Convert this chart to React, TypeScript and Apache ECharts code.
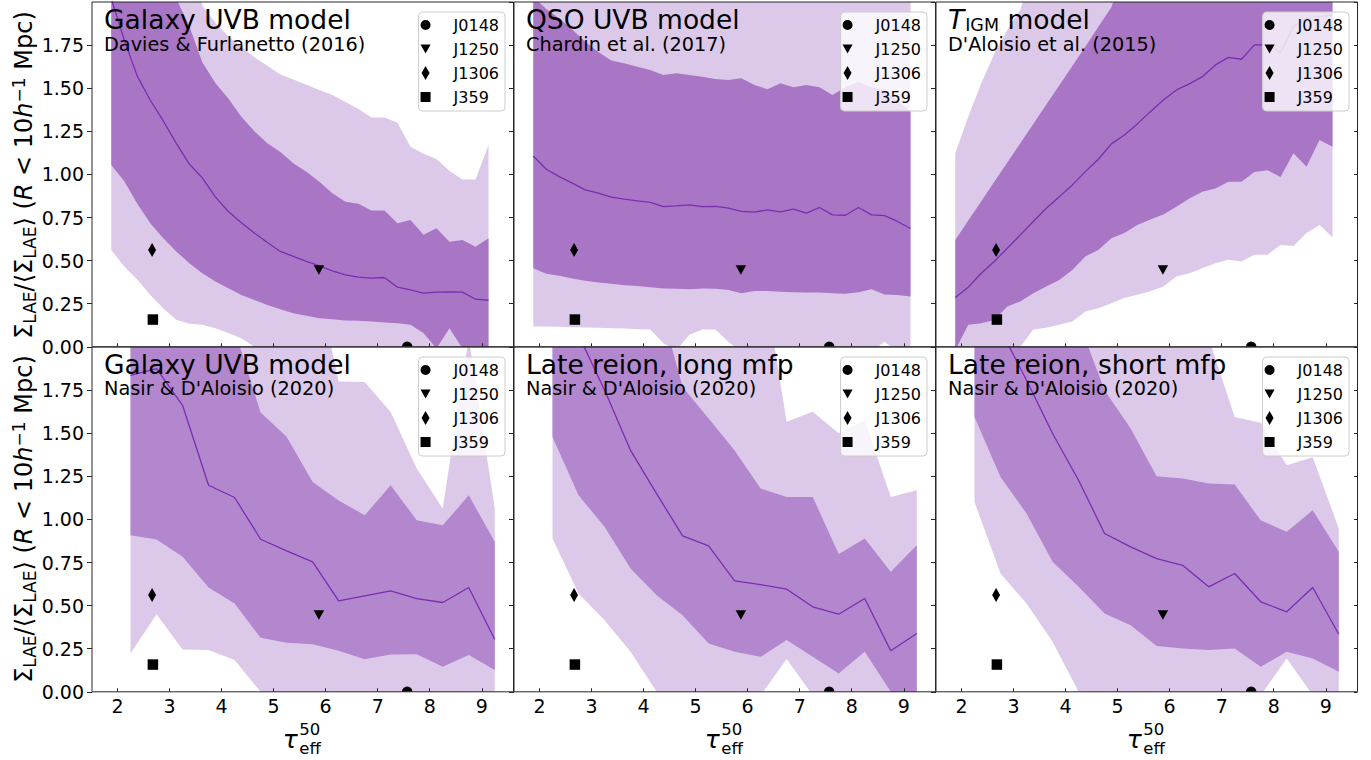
import React, { useEffect, useRef } from 'react';
import * as echarts from 'echarts';

// ---------- data ----------
const tauFine = [1.88, 2.13, 2.38, 2.63, 2.88, 3.13, 3.38, 3.63, 3.88, 4.13, 4.38, 4.63, 4.88, 5.13, 5.38, 5.63, 5.88, 6.13, 6.38, 6.63, 6.88, 7.13, 7.38, 7.63, 7.88, 8.13, 8.38, 8.63, 8.88, 9.13];
const tauCoarse = [2.25, 2.75, 3.25, 3.75, 4.25, 4.75, 5.25, 5.75, 6.25, 6.75, 7.25, 7.75, 8.25, 8.75, 9.25];

// Panel 1: Galaxy UVB model, Davies & Furlanetto (2016)
const p1Lo2 = [0.562, 0.466, 0.39, 0.30, 0.224, 0.157, 0.133, 0.128, 0.108, 0.08, 0.05, 0.0, -0.05, -0.05, -0.05, -0.05, -0.05, -0.05, -0.05, -0.05, -0.05, -0.05, -0.05, -0.05, -0.05, -0.05, -0.05, -0.05, -0.05, -0.05];
const p1Lo1 = [1.055, 0.96, 0.83, 0.717, 0.63, 0.553, 0.485, 0.427, 0.379, 0.34, 0.30, 0.272, 0.243, 0.218, 0.195, 0.18, 0.166, 0.16, 0.153, 0.151, 0.147, 0.141, 0.137, 0.128, 0.08, -0.01, 0.108, -0.01, -0.05, -0.05];
const p1Med = [2.02, 1.78, 1.57, 1.43, 1.31, 1.18, 1.06, 0.98, 0.87, 0.785, 0.72, 0.66, 0.605, 0.553, 0.524, 0.495, 0.47, 0.44, 0.417, 0.404, 0.398, 0.402, 0.346, 0.33, 0.311, 0.317, 0.319, 0.317, 0.276, 0.27];
const p1Hi1 = [2.5, 2.5, 2.5, 2.5, 2.3, 2.02, 1.86, 1.65, 1.53, 1.44, 1.335, 1.25, 1.18, 1.13, 1.065, 1.015, 0.958, 0.89, 0.842, 0.83, 0.79, 0.79, 0.717, 0.736, 0.65, 0.688, 0.61, 0.62, 0.58, 0.63];
const p1Hi2 = [2.5, 2.5, 2.5, 2.5, 2.5, 2.5, 2.5, 1.98, 1.88, 1.8, 1.74, 1.68, 1.63, 1.58, 1.55, 1.52, 1.49, 1.46, 1.42, 1.38, 1.33, 1.33, 1.3, 1.16, 1.12, 1.09, 1.02, 0.97, 0.97, 1.17];

// Panel 2: QSO UVB model, Chardin et al. (2017)
const p2Lo2 = [0.118, 0.118, 0.116, 0.114, 0.112, 0.11, 0.108, 0.106, 0.102, 0.1, 0.02, -0.02, 0.07, 0.1, 0.1, 0.03, -0.03, -0.03, -0.03, -0.03, -0.03, -0.03, -0.03, -0.03, -0.03, -0.03, -0.03, 0.03, -0.03, -0.03];
const p2Lo1 = [0.456, 0.423, 0.412, 0.396, 0.383, 0.373, 0.365, 0.357, 0.352, 0.346, 0.338, 0.336, 0.334, 0.338, 0.336, 0.33, 0.311, 0.323, 0.323, 0.319, 0.317, 0.315, 0.315, 0.311, 0.307, 0.317, 0.334, 0.303, 0.3, 0.292];
const p2Med = [1.107, 1.03, 0.987, 0.949, 0.91, 0.891, 0.868, 0.856, 0.846, 0.838, 0.813, 0.817, 0.823, 0.813, 0.815, 0.804, 0.785, 0.781, 0.794, 0.783, 0.798, 0.775, 0.808, 0.765, 0.763, 0.808, 0.765, 0.761, 0.727, 0.686];
const p2Hi1 = [2.03, 1.96, 1.905, 1.84, 1.77, 1.71, 1.66, 1.645, 1.625, 1.606, 1.577, 1.586, 1.577, 1.567, 1.554, 1.548, 1.557, 1.519, 1.494, 1.528, 1.505, 1.519, 1.505, 1.461, 1.505, 1.538, 1.505, 1.49, 1.43, 1.364];
const p2Hi2 = [2.5, 2.5, 2.5, 2.5, 2.5, 2.5, 2.5, 2.5, 2.5, 2.5, 2.5, 2.5, 2.5, 2.5, 2.5, 2.5, 2.5, 2.5, 2.5, 2.5, 2.5, 2.5, 2.5, 2.5, 2.5, 2.5, 2.5, 2.5, 2.5, 2.5];

// Panel 3: T_IGM model, D'Aloisio et al. (2015)
const p3Lo2 = [-0.05, -0.05, -0.05, -0.05, -0.03, 0.0, 0.1, 0.11, 0.128, 0.147, 0.205, 0.224, 0.253, 0.283, 0.302, 0.322, 0.35, 0.408, 0.427, 0.456, 0.485, 0.505, 0.495, 0.534, 0.534, 0.59, 0.585, 0.66, 0.707, 0.635];
const p3Lo1 = [-0.02, 0.128, 0.137, 0.156, 0.234, 0.263, 0.311, 0.35, 0.388, 0.446, 0.524, 0.562, 0.63, 0.66, 0.707, 0.739, 0.768, 0.812, 0.86, 0.899, 0.918, 0.957, 0.957, 1.014, 1.024, 0.985, 1.123, 1.045, 1.2, 1.16];
const p3Med = [0.286, 0.346, 0.427, 0.495, 0.572, 0.649, 0.727, 0.804, 0.871, 0.939, 1.016, 1.088, 1.177, 1.229, 1.293, 1.364, 1.432, 1.49, 1.525, 1.567, 1.635, 1.679, 1.668, 1.751, 1.751, 1.706, 1.857, 1.905, 1.915, 1.925];
const p3Hi1 = [0.62, 0.732, 0.844, 0.957, 1.069, 1.18, 1.293, 1.405, 1.517, 1.629, 1.741, 1.857, 1.97, 2.2, 2.5, 2.5, 2.5, 2.5, 2.5, 2.5, 2.5, 2.5, 2.5, 2.5, 2.5, 2.5, 2.5, 2.5, 2.5, 2.5];
const p3Hi2 = [1.123, 1.335, 1.528, 1.7, 1.838, 1.954, 2.2, 2.5, 2.5, 2.5, 2.5, 2.5, 2.5, 2.5, 2.5, 2.5, 2.5, 2.5, 2.5, 2.5, 2.5, 2.5, 2.5, 2.5, 2.5, 2.5, 2.5, 2.5, 2.5, 2.5];

// Panel 4: Galaxy UVB model, Nasir & D'Aloisio (2020)
const p4Lo2 = [0.222, 0.45, 0.245, 0.242, 0.184, 0.0, -0.05, -0.05, -0.05, -0.05, -0.05, -0.05, -0.05, -0.05, -0.05];
const p4Lo1 = [0.908, 0.883, 0.783, 0.605, 0.512, 0.313, 0.284, 0.276, 0.238, 0.189, 0.216, 0.218, 0.145, 0.213, 0.126];
const p4Med = [1.836, 1.874, 1.662, 1.198, 1.127, 0.885, 0.817, 0.754, 0.528, 0.556, 0.585, 0.541, 0.518, 0.605, 0.303];
const p4Hi1 = [2.5, 2.5, 2.5, 2.5, 2.1, 1.62, 1.48, 1.217, 1.11, 1.024, 1.198, 0.995, 0.966, 1.14, 0.87];
const p4Hi2 = [2.5, 2.5, 2.5, 2.5, 2.5, 2.5, 2.5, 2.5, 1.8, 1.797, 1.623, 1.295, 1.063, 2.05, 1.063];

// Panel 5: Late reion, long mfp
const p5Lo2 = [0.889, 0.57, 0.415, 0.232, 0.0, -0.05, -0.05, -0.05, -0.02, 0.19, -0.02, -0.05, -0.05, -0.05, -0.05];
const p5Lo1 = [1.478, 1.14, 0.957, 0.715, 0.56, 0.444, 0.28, 0.232, 0.203, 0.3, 0.203, 0.106, 0.232, 0.0, -0.05];
const p5Med = [2.3, 2.07, 1.75, 1.4, 1.15, 0.904, 0.846, 0.643, 0.622, 0.595, 0.493, 0.45, 0.541, 0.238, 0.338];
const p5Hi1 = [2.5, 2.5, 2.5, 2.5, 2.32, 1.768, 1.585, 1.4, 1.179, 1.13, 1.13, 0.8, 0.889, 0.696, 0.85];
const p5Hi2 = [2.5, 2.5, 2.5, 2.5, 2.5, 2.5, 2.5, 2.5, 2.5, 1.566, 1.624, 1.5, 1.575, 1.13, 1.169];

// Panel 6: Late reion, short mfp
const p6Lo2 = [1.101, 0.686, 0.512, 0.29, 0.0, -0.05, -0.05, -0.05, -0.05, -0.05, -0.05, -0.02, 0.193, -0.02, -0.05];
const p6Lo1 = [1.594, 1.246, 1.034, 0.754, 0.609, 0.454, 0.386, 0.265, 0.251, 0.242, 0.251, 0.145, 0.232, 0.193, 0.116];
const p6Med = [2.4, 2.1, 1.807, 1.498, 1.227, 0.918, 0.841, 0.773, 0.734, 0.609, 0.686, 0.522, 0.464, 0.605, 0.334];
const p6Hi1 = [2.5, 2.5, 2.5, 2.5, 2.15, 1.749, 1.527, 1.25, 1.237, 1.208, 1.202, 0.995, 0.928, 1.053, 0.812];
const p6Hi2 = [2.5, 2.5, 2.5, 2.5, 2.5, 2.5, 2.5, 2.5, 2.5, 2.05, 1.594, 1.56, 1.314, 1.36, 0.947];

// Observed quasar fields [tau_eff^50, Sigma ratio]
const obsJ0148 = [[7.567, 0.0]];
const obsJ1250 = [[5.87, 0.445]];
const obsJ1306 = [[2.665, 0.562]];
const obsJ359 = [[2.68, 0.158]];

const panelTitles = ['Galaxy UVB model', 'QSO UVB model', '{it|T}{sub|IGM}{n| model}', 'Galaxy UVB model', 'Late reion, long mfp', 'Late reion, short mfp'];
const panelRefs = ['Davies & Furlanetto (2016)', 'Chardin et al. (2017)', "D'Aloisio et al. (2015)", "Nasir & D'Aloisio (2020)", "Nasir & D'Aloisio (2020)", "Nasir & D'Aloisio (2020)"];
const xTickValues = [2, 3, 4, 5, 6, 7, 8, 9];
const legendNames = ['J0148', 'J1250', 'J1306', 'J359'];

// ---------- styles ----------
const LIGHT = '#dcc9ea';
const DARK_TOP = '#a976c6';
const DARK_BOT = '#b387cd';
const LINE = '#7a2db3';
const INK = '#000000';
const SPINE = '#262626';
const FONT = "'DejaVu Sans', 'Liberation Sans', sans-serif";

const COL_LEFT = [92, 514, 936];
const ROW_TOP = [2, 347];
const PANEL_W = 421.5;
const PANEL_H = 344.8;
const CHART_W = 1371;

const SYM_HALF_DISC = 'path://M0 5A5 5 0 0 1 10 5Z';
const SYM_TRI_DOWN = 'path://M0 0L10 0L5 9Z';
const SYM_DIAMOND = 'path://M4 0L8 7L4 14L0 7Z';

const LEG_CIRCLE = 'path://M0 0M14 14M2 7A5 5 0 1 1 12 7A5 5 0 1 1 2 7Z';
const LEG_TRI = 'path://M0 0M14 14M2 2.5L12 2.5L7 11.5Z';
const LEG_DIAMOND = 'path://M0 0M14 14M7 0L11 7L7 14L3 7Z';
const LEG_SQUARE = 'path://M0 0M14 14M2 2L12 2L12 12L2 12Z';

const panels = [
  { x: tauFine, lo2: p1Lo2, lo1: p1Lo1, med: p1Med, hi1: p1Hi1, hi2: p1Hi2 },
  { x: tauFine, lo2: p2Lo2, lo1: p2Lo1, med: p2Med, hi1: p2Hi1, hi2: p2Hi2 },
  { x: tauFine, lo2: p3Lo2, lo1: p3Lo1, med: p3Med, hi1: p3Hi1, hi2: p3Hi2 },
  { x: tauCoarse, lo2: p4Lo2, lo1: p4Lo1, med: p4Med, hi1: p4Hi1, hi2: p4Hi2 },
  { x: tauCoarse, lo2: p5Lo2, lo1: p5Lo1, med: p5Med, hi1: p5Hi1, hi2: p5Hi2 },
  { x: tauCoarse, lo2: p6Lo2, lo1: p6Lo1, med: p6Med, hi1: p6Hi1, hi2: p6Hi2 },
];

// one filled polygon between lo and hi, projected through the grid's axes
function bandSeries(k: number, x: number[], lo: number[], hi: number[], color: string) {
  return {
    type: 'custom', xAxisIndex: k, yAxisIndex: k, clip: true, silent: true, z: 1,
    data: x.map((v, i) => [v, lo[i], hi[i]]),
    encode: { x: 0, y: [1, 2] },
    renderItem: (params: any, api: any) => {
      if (params.dataIndex !== 0) return { type: 'group', children: [] };
      const upper = x.map((v, i) => api.coord([v, hi[i]]));
      const lower = x.map((v, i) => api.coord([v, lo[i]])).reverse();
      return { type: 'polygon', silent: true, shape: { points: upper.concat(lower) }, style: { fill: color, stroke: null } };
    },
  };
}

function buildOption() {
  const grid: any[] = [];
  const xAxis: any[] = [];
  const yAxisL: any[] = [];
  const yAxisR: any[] = [];
  const series: any[] = [];
  const legend: any[] = [];
  const elements: any[] = [];

  panels.forEach((p, k) => {
    const row = Math.floor(k / 3);
    const col = k % 3;
    const left = COL_LEFT[col];
    const top = ROW_TOP[row];
    grid.push({ left, top, width: PANEL_W, height: PANEL_H, show: true, borderColor: SPINE, borderWidth: 1, backgroundColor: 'transparent', z: 4 });
    xAxis.push({
      type: 'value', gridIndex: k, min: 1.51, max: 9.61, z: 4,
      axisLine: { show: false }, splitLine: { show: false },
      axisTick: { show: true, inside: true, length: 3.5, customValues: xTickValues, lineStyle: { color: SPINE, width: 1 } },
      axisLabel: { show: row === 1, customValues: xTickValues, fontSize: 19, fontFamily: FONT, color: INK, margin: 5 },
    });
    yAxisL.push({
      type: 'value', gridIndex: k, min: 0, max: 2, interval: 0.25, position: 'left', z: 4,
      axisLine: { show: false }, splitLine: { show: false },
      axisTick: { show: true, inside: false, length: 5, lineStyle: { color: SPINE, width: 1 } },
      axisLabel: { show: col === 0, showMaxLabel: false, formatter: (v: number) => v.toFixed(2), fontSize: 19, fontFamily: FONT, color: INK, margin: 8 },
    });
    yAxisR.push({
      type: 'value', gridIndex: k, min: 0, max: 2, interval: 0.25, position: 'right', z: 4,
      axisLine: { show: false }, splitLine: { show: false },
      axisTick: { show: true, inside: true, length: 3.5, lineStyle: { color: SPINE, width: 1 } },
      axisLabel: { show: false },
    });

    const dark = row === 0 ? DARK_TOP : DARK_BOT;
    series.push(bandSeries(k, p.x, p.lo2, p.hi2, LIGHT));
    series.push(bandSeries(k, p.x, p.lo1, p.hi1, dark));
    series.push({
      type: 'line', xAxisIndex: k, yAxisIndex: k, data: p.x.map((v, i) => [v, p.med[i]]),
      symbol: 'none', showSymbol: false, silent: true, clip: true, z: 2,
      lineStyle: { color: LINE, width: 1.3 },
    });
    const sc = { type: 'scatter', xAxisIndex: k, yAxisIndex: k, silent: true, clip: false, z: 3, itemStyle: { color: INK, opacity: 1 } };
    series.push({ ...sc, name: 'J0148', data: obsJ0148, symbol: SYM_HALF_DISC, symbolSize: [10.5, 5.25], symbolOffset: [0, -2.6] });
    series.push({ ...sc, name: 'J1250', data: obsJ1250, symbol: SYM_TRI_DOWN, symbolSize: [10.5, 9.5] });
    series.push({ ...sc, name: 'J1306', data: obsJ1306, symbol: SYM_DIAMOND, symbolSize: [8, 14] });
    series.push({ ...sc, name: 'J359', data: obsJ359, symbol: 'rect', symbolSize: 10.5 });

    legend.push({
      orient: 'vertical', right: CHART_W - (left + PANEL_W - 8.5), top: top + 10,
      itemWidth: 46, itemHeight: 14, itemGap: 8,
      padding: [5, 6, 6, 0],
      backgroundColor: 'rgba(255,255,255,0.8)', borderColor: '#cccccc', borderWidth: 1, borderRadius: 4,
      textStyle: { fontSize: 16, fontFamily: FONT, color: INK },
      itemStyle: { opacity: 1 },
      selectedMode: false, z: 6,
      data: [
        { name: legendNames[0], icon: LEG_CIRCLE },
        { name: legendNames[1], icon: LEG_TRI },
        { name: legendNames[2], icon: LEG_DIAMOND },
        { name: legendNames[3], icon: LEG_SQUARE },
      ],
    });

    // panel titles
    const titleCentral = top + (row === 0 ? 17.9 : 17.3);
    const refCentral = top + (row === 0 ? 42.7 : 41.6);
    elements.push({
      type: 'text', x: left + 12, y: titleCentral, z: 10, silent: true,
      style: {
        text: panelTitles[k], fill: INK, fontSize: 26.5, fontFamily: FONT, align: 'left', verticalAlign: 'middle',
        rich: {
          it: { fontSize: 26.5, fontFamily: FONT, fontStyle: 'italic', lineHeight: 28 },
          sub: { fontSize: 17.5, fontFamily: FONT, lineHeight: 28, padding: [11, 0, 0, 1] },
          n: { fontSize: 26.5, fontFamily: FONT, lineHeight: 28 },
        },
      },
    });
    elements.push({
      type: 'text', x: left + 12, y: refCentral, z: 10, silent: true,
      style: { text: panelRefs[k], fill: INK, fontSize: 19.3, fontFamily: FONT, align: 'left', verticalAlign: 'middle' },
    });

    // x-axis label under bottom-row panels
    if (row === 1) {
      const cx = left + PANEL_W / 2;
      elements.push({ type: 'text', x: cx - 20, y: 739.3, z: 10, silent: true, style: { text: 'τ', fill: INK, fontSize: 25, fontFamily: FONT, fontStyle: 'italic', align: 'left', verticalAlign: 'middle' } });
      elements.push({ type: 'text', x: cx - 3.5, y: 729.2, z: 10, silent: true, style: { text: '50', fill: INK, fontSize: 16.5, fontFamily: FONT, align: 'left', verticalAlign: 'middle' } });
      elements.push({ type: 'text', x: cx - 3.5, y: 748.6, z: 10, silent: true, style: { text: 'eff', fill: INK, fontSize: 16.5, fontFamily: FONT, align: 'left', verticalAlign: 'middle' } });
    }
  });

  // y-axis labels (left column)
  const yRich = {
    m: { fontSize: 24, fontFamily: FONT, lineHeight: 34 },
    it: { fontSize: 24, fontFamily: FONT, fontStyle: 'italic', lineHeight: 34 },
    sub: { fontSize: 17, fontFamily: FONT, lineHeight: 34, padding: [13, 0, 0, 0] },
    sup: { fontSize: 17, fontFamily: FONT, lineHeight: 34, padding: [0, 0, 9, 0] },
  };
  const yText = '{m|Σ}{sub|LAE}{m|/⟨Σ}{sub|LAE}{m|⟩ (}{it|R}{m| < 10}{it|h}{sup|−1}{m| Mpc)}';
  [175, 519].forEach((cy) => {
    elements.push({
      type: 'text', x: 23.5, y: cy, rotation: Math.PI / 2, z: 10, silent: true,
      style: { text: yText, rich: yRich, fill: INK, fontSize: 24, fontFamily: FONT, align: 'center', verticalAlign: 'middle' },
    });
  });

  return {
    animation: false,
    backgroundColor: '#ffffff',
    grid, xAxis, yAxis: [...yAxisL, ...yAxisR], series, legend,
    graphic: { elements },
  };
}

export default function App() {
  const ref = useRef<HTMLDivElement>(null);
  useEffect(() => {
    if (!ref.current) return;
    const chart = echarts.init(ref.current, null, { renderer: 'svg' });
    chart.setOption(buildOption() as any);
    return () => chart.dispose();
  }, []);
  return <div ref={ref} style={{ position: 'fixed', left: 0, top: 0, width: 1371, height: 760, background: '#fff' }} />;
}
